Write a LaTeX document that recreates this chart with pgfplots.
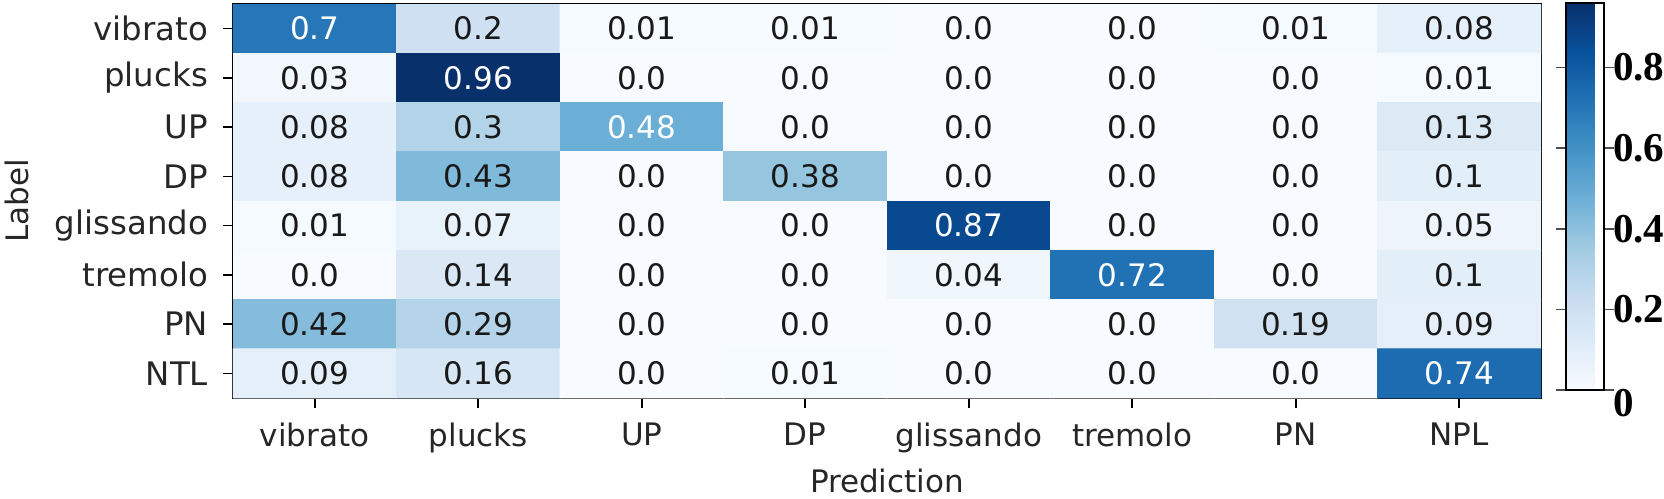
\documentclass[border=0pt]{standalone}
\usepackage{fontspec}
\setmainfont{DejaVu Sans}
\newfontfamily\cbfont{Liberation Serif}
\usepackage{pgfplots}
\usepackage{pgfplotstable}
\pgfplotsset{compat=1.18}

\pgfplotstableread{
x y C
0 0 0.70
1 0 0.20
2 0 0.01
3 0 0.01
4 0 0.00
5 0 0.00
6 0 0.01
7 0 0.08
0 1 0.03
1 1 0.96
2 1 0.00
3 1 0.00
4 1 0.00
5 1 0.00
6 1 0.00
7 1 0.01
0 2 0.08
1 2 0.30
2 2 0.48
3 2 0.00
4 2 0.00
5 2 0.00
6 2 0.00
7 2 0.13
0 3 0.08
1 3 0.43
2 3 0.00
3 3 0.38
4 3 0.00
5 3 0.00
6 3 0.00
7 3 0.10
0 4 0.01
1 4 0.07
2 4 0.00
3 4 0.00
4 4 0.87
5 4 0.00
6 4 0.00
7 4 0.05
0 5 0.00
1 5 0.14
2 5 0.00
3 5 0.00
4 5 0.04
5 5 0.72
6 5 0.00
7 5 0.10
0 6 0.42
1 6 0.29
2 6 0.00
3 6 0.00
4 6 0.00
5 6 0.00
6 6 0.19
7 6 0.09
0 7 0.09
1 7 0.16
2 7 0.00
3 7 0.01
4 7 0.00
5 7 0.00
6 7 0.00
7 7 0.74
}\cmdata

\pgfplotstableread{
x y label
1 0 0.2
2 0 0.01
3 0 0.01
4 0 0.0
5 0 0.0
6 0 0.01
7 0 0.08
0 1 0.03
2 1 0.0
3 1 0.0
4 1 0.0
5 1 0.0
6 1 0.0
7 1 0.01
0 2 0.08
1 2 0.3
3 2 0.0
4 2 0.0
5 2 0.0
6 2 0.0
7 2 0.13
0 3 0.08
1 3 0.43
2 3 0.0
3 3 0.38
4 3 0.0
5 3 0.0
6 3 0.0
7 3 0.1
0 4 0.01
1 4 0.07
2 4 0.0
3 4 0.0
5 4 0.0
6 4 0.0
7 4 0.05
0 5 0.0
1 5 0.14
2 5 0.0
3 5 0.0
4 5 0.04
6 5 0.0
7 5 0.1
0 6 0.42
1 6 0.29
2 6 0.0
3 6 0.0
4 6 0.0
5 6 0.0
6 6 0.19
7 6 0.09
0 7 0.09
1 7 0.16
2 7 0.0
3 7 0.01
4 7 0.0
5 7 0.0
6 7 0.0
}\blacklabels

\pgfplotstableread{
x y label
0 0 0.7
1 1 0.96
2 2 0.48
4 4 0.87
5 5 0.72
7 7 0.74
}\whitelabels

\begin{document}
\begin{tikzpicture}
\begin{axis}[
  name=main,
  scale only axis,
  width=654pt, height=197pt,
  xmin=-0.5, xmax=7.5, ymin=-0.5, ymax=7.5,
  y dir=reverse,
  axis line style={line width=1pt},
  xtick={0,1,2,3,4,5,6,7},
  ytick={0,1,2,3,4,5,6,7},
  xticklabels={vibrato,plucks,UP,DP,glissando,tremolo,PN,NPL},
  yticklabels={vibrato,plucks,UP,DP,glissando,tremolo,PN,NTL},
  xtick pos=bottom, ytick pos=left,
  tick align=outside,
  major tick length=5pt,
  tick style={line width=0.8pt, black},
  ticklabel style={font=\fontsize{15.5}{18}\selectfont, text=black!85},
  xticklabel style={yshift=-4pt},
  yticklabel style={xshift=-4pt, font=\fontsize{16.2}{18}\selectfont},
  xlabel={Prediction},
  ylabel={Label},
  xlabel style={font=\fontsize{15.5}{18}\selectfont, text=black!85, at={(axis description cs:0.5,0)}, anchor=center, yshift=-41.5pt},
  ylabel style={font=\fontsize{15.5}{18}\selectfont, text=black!85, at={(axis description cs:-0.16514,0.5)}, anchor=center},
  colormap={blues}{rgb255=(247,251,255) rgb255=(222,235,247) rgb255=(198,219,239) rgb255=(158,202,225) rgb255=(107,174,214) rgb255=(66,146,198) rgb255=(33,113,181) rgb255=(8,81,156) rgb255=(8,48,107)},
  point meta min=0, point meta max=0.96,
  colorbar,
  colorbar style={
    at={(parent axis.north east)}, anchor=north west,
    xshift=4pt, yshift=0.5pt,
    scale only axis,
    width=19pt, height=193.5pt,
    axis line style={line width=0.8pt},
    ytick={0,0.2,0.4,0.6,0.8},
    yticklabels={\raisebox{-13.5pt}[0pt][0pt]{0},0.2,0.4,0.6,0.8},
    tick align=outside,
    major tick length=5pt,
    tick style={line width=0.8pt, black!70},
    yticklabel style={font=\cbfont\bfseries\fontsize{20.5}{24}\selectfont, text=black, xshift=-4pt},
  },
]
\addplot[matrix plot*, mesh/cols=8, point meta=explicit] table[x=x, y=y, meta=C] {\cmdata};
\addplot[draw=none, mark=none, nodes near coords, point meta=explicit symbolic,
  nodes near coords align={center},
  every node near coord/.style={font=\fontsize{15.5}{18}\selectfont, text=black!90, anchor=center}]
  table[x=x, y=y, meta=label] {\blacklabels};
\addplot[draw=none, mark=none, nodes near coords, point meta=explicit symbolic,
  nodes near coords align={center},
  every node near coord/.style={font=\fontsize{15.5}{18}\selectfont, text=white, anchor=center}]
  table[x=x, y=y, meta=label] {\whitelabels};
\end{axis}
\pgfresetboundingbox
\path[use as bounding box] ([xshift=-116.5pt, yshift=-50pt]main.south west) rectangle ([xshift=61.5pt, yshift=2pt]main.north east);
\end{tikzpicture}
\end{document}
